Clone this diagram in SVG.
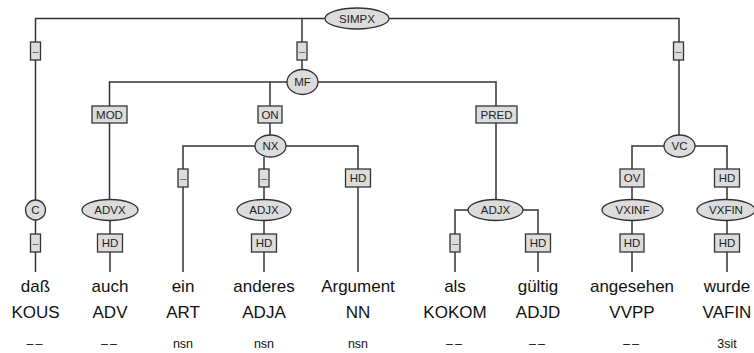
<svg xmlns="http://www.w3.org/2000/svg" width="754" height="353" viewBox="0 0 754 353">
<style>
.e{fill:#dcdcdc;stroke:#333;stroke-width:1.3}
.b{fill:#dcdcdc;stroke:#333;stroke-width:1.3}
.l{fill:none;stroke:#333;stroke-width:1.5}
.t{font-family:"Liberation Sans",Arial,sans-serif;font-size:11.5px;fill:#222;text-anchor:middle}
.d{font-family:"Liberation Sans",Arial,sans-serif;font-size:11px;fill:#555;text-anchor:middle}
.w{font-family:"Liberation Sans",Arial,sans-serif;font-size:17px;fill:#111;text-anchor:middle}
.m{font-family:"Liberation Sans",Arial,sans-serif;font-size:12.5px;fill:#111;text-anchor:middle}
</style>
<rect width="754" height="353" fill="#fff"/>
<g id="connectors">
<path class="l" d="M35.5,200 V18.5 H679 V135"/>
<path class="l" d="M302,18.5 V70"/>
<path class="l" d="M109.5,199.5 V82 H496 V199.5"/>
<path class="l" d="M270,82 V135"/>
<path class="l" d="M183,272 V146 H358 V272"/>
<path class="l" d="M264,157 V199.5"/>
<path class="l" d="M35.5,220 V272"/>
<path class="l" d="M110,220 V272"/>
<path class="l" d="M264,220 V272"/>
<path class="l" d="M455,272 V210 H538 V272"/>
<path class="l" d="M632,272 V146 H727 V272"/>
</g>
<g id="SIMPX"><ellipse class="e" cx="357" cy="18.5" rx="32" ry="10.5"/><text class="t" x="357" y="22.5">SIMPX</text></g>
<g id="edge-simpx-c"><rect class="b" x="30.5" y="42" width="10" height="18"/><text class="d" x="35.5" y="55">–</text></g>
<g id="edge-simpx-mf"><rect class="b" x="297" y="42" width="10" height="18"/><text class="d" x="302" y="55">–</text></g>
<g id="edge-simpx-vc"><rect class="b" x="673.5" y="42" width="10" height="18"/><text class="d" x="678.5" y="55">–</text></g>
<g id="MF"><ellipse class="e" cx="302.5" cy="82" rx="15.5" ry="12.5"/><text class="t" x="302.5" y="86">MF</text></g>
<g id="edge-mod"><rect class="b" x="92" y="106" width="35" height="17"/><text class="t" x="109.5" y="118.5">MOD</text></g>
<g id="edge-on"><rect class="b" x="258" y="106" width="24" height="17"/><text class="t" x="270" y="118.5">ON</text></g>
<g id="edge-pred"><rect class="b" x="476" y="106" width="41" height="17"/><text class="t" x="496.5" y="118.5">PRED</text></g>
<g id="NX"><ellipse class="e" cx="270.5" cy="146" rx="15.5" ry="11"/><text class="t" x="270.5" y="150">NX</text></g>
<g id="edge-nx-art"><rect class="b" x="178" y="169" width="10" height="18"/><text class="d" x="183" y="182">–</text></g>
<g id="edge-nx-adjx"><rect class="b" x="259" y="169" width="10" height="18"/><text class="d" x="264" y="182">–</text></g>
<g id="edge-nx-hd"><rect class="b" x="345.5" y="169" width="25" height="18"/><text class="t" x="358" y="182">HD</text></g>
<g id="VC"><ellipse class="e" cx="679.5" cy="146" rx="15.5" ry="11"/><text class="t" x="679.5" y="150">VC</text></g>
<g id="edge-ov"><rect class="b" x="620" y="169" width="24" height="18"/><text class="t" x="632" y="182">OV</text></g>
<g id="edge-vc-hd"><rect class="b" x="714.5" y="169" width="25" height="18"/><text class="t" x="727" y="182">HD</text></g>
<g id="C"><circle class="e" cx="35.5" cy="210" r="10"/><text class="t" x="35.5" y="214">C</text></g>
<g id="ADVX"><ellipse class="e" cx="110" cy="210" rx="28" ry="10.5"/><text class="t" x="110" y="214">ADVX</text></g>
<g id="ADJX1"><ellipse class="e" cx="264" cy="210" rx="27" ry="10.5"/><text class="t" x="264" y="214">ADJX</text></g>
<g id="ADJX2"><ellipse class="e" cx="495.5" cy="210" rx="27.5" ry="10.5"/><text class="t" x="495.5" y="214">ADJX</text></g>
<g id="VXINF"><ellipse class="e" cx="632.5" cy="210" rx="30.5" ry="10.5"/><text class="t" x="632.5" y="214">VXINF</text></g>
<g id="VXFIN"><ellipse class="e" cx="726" cy="210" rx="29" ry="10.5"/><text class="t" x="726" y="214">VXFIN</text></g>
<g id="edge-c-dass"><rect class="b" x="30.5" y="234" width="10" height="18"/><text class="d" x="35.5" y="247">–</text></g>
<g id="edge-advx-hd"><rect class="b" x="97.5" y="234" width="25" height="18"/><text class="t" x="110" y="247">HD</text></g>
<g id="edge-adjx1-hd"><rect class="b" x="251.5" y="234" width="25" height="18"/><text class="t" x="264" y="247">HD</text></g>
<g id="edge-adjx2-als"><rect class="b" x="450" y="234" width="10" height="18"/><text class="d" x="455" y="247">–</text></g>
<g id="edge-adjx2-hd"><rect class="b" x="525.5" y="234" width="25" height="18"/><text class="t" x="538" y="247">HD</text></g>
<g id="edge-vxinf-hd"><rect class="b" x="620" y="234" width="24" height="18"/><text class="t" x="632" y="247">HD</text></g>
<g id="edge-vxfin-hd"><rect class="b" x="714.5" y="234" width="25" height="18"/><text class="t" x="727" y="247">HD</text></g>
<g id="words">
<text class="w" x="35.5" y="292">daß</text>
<text class="w" x="110" y="292">auch</text>
<text class="w" x="183" y="292">ein</text>
<text class="w" x="264" y="292">anderes</text>
<text class="w" x="358" y="292">Argument</text>
<text class="w" x="455" y="292">als</text>
<text class="w" x="538" y="292">gültig</text>
<text class="w" x="632" y="292">angesehen</text>
<text class="w" x="727" y="292">wurde</text>
<text class="w" x="35.5" y="318">KOUS</text>
<text class="w" x="110" y="318">ADV</text>
<text class="w" x="183" y="318">ART</text>
<text class="w" x="264" y="318">ADJA</text>
<text class="w" x="358" y="318">NN</text>
<text class="w" x="455" y="318">KOKOM</text>
<text class="w" x="538" y="318">ADJD</text>
<text class="w" x="632" y="318">VVPP</text>
<text class="w" x="727" y="318">VAFIN</text>
<text class="m" x="35.5" y="348" letter-spacing="2">––</text>
<text class="m" x="110" y="348" letter-spacing="2">––</text>
<text class="m" x="183" y="348">nsn</text>
<text class="m" x="264" y="348">nsn</text>
<text class="m" x="358" y="348">nsn</text>
<text class="m" x="455" y="348" letter-spacing="2">––</text>
<text class="m" x="538" y="348" letter-spacing="2">––</text>
<text class="m" x="632" y="348" letter-spacing="2">––</text>
<text class="m" x="727" y="348">3sit</text>
</g>
</svg>
